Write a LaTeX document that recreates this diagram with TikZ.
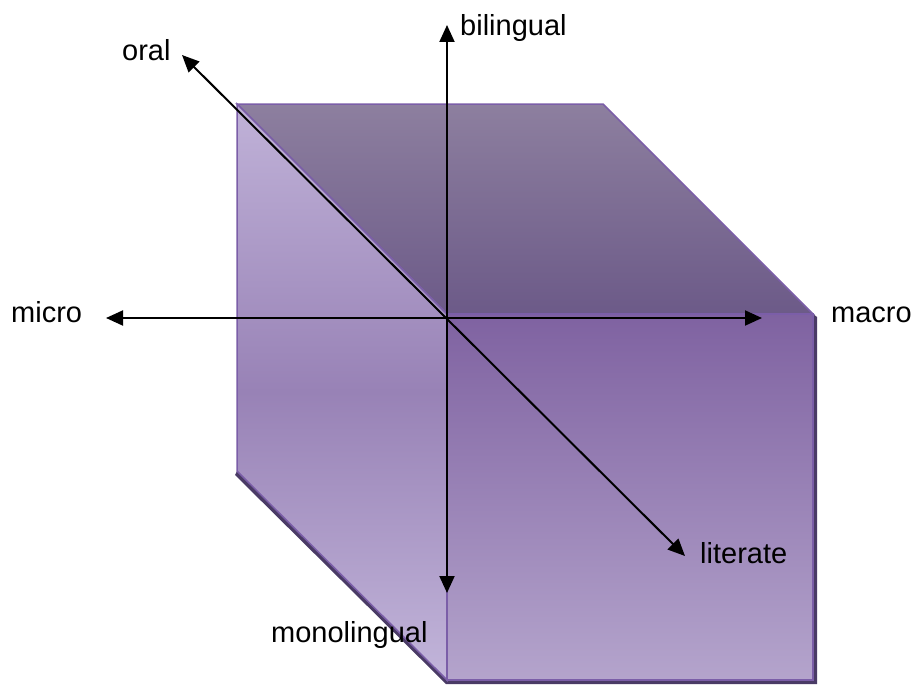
\documentclass[tikz,border=0pt]{standalone}
\usepackage{fontspec}
\setmainfont{Liberation Sans}
\usetikzlibrary{arrows.meta}
\definecolor{edgec}{HTML}{7B5EA8}
\definecolor{shadc}{HTML}{4A3B66}
\definecolor{topA}{HTML}{8D7F9F}
\definecolor{topB}{HTML}{6C5A88}
\definecolor{frontA}{HTML}{7F62A1}
\definecolor{frontB}{HTML}{B4A4CC}
\definecolor{leftA}{HTML}{C0B2D8}
\definecolor{leftM}{HTML}{9882B6}
\definecolor{leftB}{HTML}{C2B5DA}
\tikzset{
  face/.style={draw=edgec, line width=1.5pt, line join=miter},
  axis/.style={line width=2pt, {Triangle[length=17pt,width=15pt]}-{Triangle[length=17pt,width=15pt]}},
  lbl/.style={inner sep=0pt, anchor=base west, font=\fontsize{29}{34}\selectfont},
}
\begin{document}
\begin{tikzpicture}[x=1pt,y=-1pt]
\useasboundingbox (0,0) rectangle (918,685);
% cube corners
\coordinate (A) at (237,104);
\coordinate (B) at (603,104);
\coordinate (C) at (813,314);
\coordinate (D) at (447,314);
\coordinate (E) at (447,680);
\coordinate (F) at (813,680);
\coordinate (G) at (237,471);
% shadow band
\coordinate (Gs) at (235,475);
\coordinate (Es) at (446,684);
\coordinate (Fs) at (817,684);
\coordinate (Cs) at (817,317);
\fill[shadc] (G) -- (E) -- (F) -- (C) -- (Cs) -- (Fs) -- (Es) -- (Gs) -- cycle;
% faces
\shade[face, top color=topA, bottom color=topB] (A) -- (B) -- (C) -- (D) -- cycle;
\shade[face, top color=leftA, bottom color=leftB, middle color=leftM] (A) -- (D) -- (E) -- (G) -- cycle;
\shade[face, top color=frontA, bottom color=frontB] (D) -- (C) -- (F) -- (E) -- cycle;
% axes
\coordinate (O) at (447,318);
\coordinate (bil) at (447,25);
\coordinate (mono) at (447,593);
\coordinate (mic) at (106,318);
\coordinate (mac) at (762,318);
\coordinate (ora) at (182,55);
\coordinate (lit) at (685,556);
\draw[axis] (mono) -- (bil);
\draw[axis] (mic) -- (mac);
\draw[axis] (ora) -- (lit);
% labels
\node[lbl] (tbil) at (460,36) {bilingual};
\node[lbl] (tora) at (122,60) {oral};
\node[lbl] (tmic) at (11,322) {micro};
\node[lbl] (tmac) at (831,322) {macro};
\node[lbl] (tlit) at (700,563) {literate};
\node[lbl] (tmon) at (271,642) {monolingual};
\end{tikzpicture}
\end{document}
